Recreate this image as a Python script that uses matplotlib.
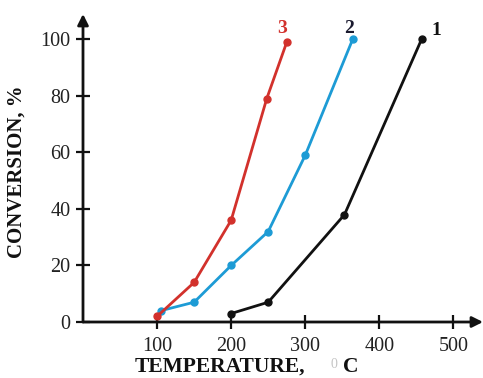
import matplotlib
matplotlib.use("Agg")
import matplotlib.pyplot as plt

# curve 1 (black), 2 (blue), 3 (red)
temp_1 = [200, 250, 353, 457]
conv_1 = [3, 7, 38, 100]
temp_2 = [105, 150, 200, 250, 300, 364]
conv_2 = [4, 7, 20, 32, 59, 100]
temp_3 = [100, 150, 200, 248, 275]
conv_3 = [2, 14, 36, 79, 99]

x_ticks = [100, 200, 300, 400, 500]
y_ticks = [0, 20, 40, 60, 80, 100]

RED = '#d2312c'
BLUE = '#1d9bd5'
BLACK = '#111111'

plt.rcParams['font.family'] = ['Liberation Serif', 'DejaVu Serif']

W, H = 483, 378
fig = plt.figure(figsize=(W / 100, H / 100), dpi=100)
ax = fig.add_axes([83 / W, (H - 322) / H, (483 - 83) / W, (322 - 14) / H])
ax.set_xlim(0, 540)
ax.set_ylim(0, 109)

for s in ax.spines.values():
    s.set_visible(False)

# axes with arrow heads
arrow = dict(arrowstyle='-|>', color=BLACK, lw=2, mutation_scale=16,
             shrinkA=0, shrinkB=0)
ax.annotate('', xy=(1, 0), xytext=(0, 0), xycoords='axes fraction',
            textcoords='axes fraction', arrowprops=arrow, annotation_clip=False)
ax.annotate('', xy=(0, 1), xytext=(0, 0), xycoords='axes fraction',
            textcoords='axes fraction', arrowprops=arrow, annotation_clip=False)

kw = dict(lw=2, marker='o', ms=5, clip_on=False)
ax.plot(temp_1, conv_1, color=BLACK, **kw)
ax.plot(temp_2, conv_2, color=BLUE, **kw)
ax.plot(temp_3, conv_3, color=RED, **kw)

ax.text(temp_1[-1] + 14, conv_1[-1], '1', color=BLACK, fontsize=14,
        fontweight='bold', ha='left', va='bottom')
ax.text(temp_2[-1] - 12, conv_2[-1] + 1, '2', color='#1a1a2e', fontsize=14,
        fontweight='bold', ha='left', va='bottom')
ax.text(temp_3[-1] - 13, conv_3[-1] + 2, '3', color=RED, fontsize=14,
        fontweight='bold', ha='left', va='bottom')

ax.set_xticks(x_ticks)
ax.set_yticks(y_ticks)
ax.tick_params(direction='inout', length=10, width=1.6, colors=BLACK,
               labelsize=14.5, labelcolor='#222222', pad=4)
ax.tick_params(axis='x', pad=6)

# axis titles
fig.text(17 / W, 1 - 172 / H, 'CONVERSION, %', rotation=90, fontsize=15,
         fontweight='bold', ha='center', va='center', color=BLACK)
fig.text(135 / W, 1 - 377 / H, 'TEMPERATURE,', fontsize=15.5,
         fontweight='bold', ha='left', va='bottom', color=BLACK)
fig.text(334 / W, 1 - 364 / H, '0', fontsize=10, color='#c4c4c4',
         ha='center', va='center')
fig.text(343 / W, 1 - 377 / H, 'C', fontsize=15.5, fontweight='bold',
         ha='left', va='bottom', color=BLACK)

fig.savefig('out.png', dpi=100)
